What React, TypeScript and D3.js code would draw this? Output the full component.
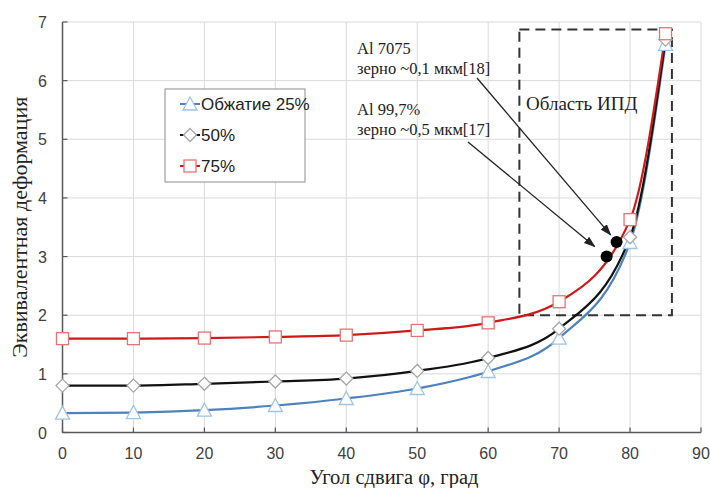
import React from "react";
import * as d3 from "d3";

const angles = [0, 10, 20, 30, 40, 50, 60, 70, 80, 85];
const s25 = [0.33, 0.34, 0.38, 0.46, 0.58, 0.75, 1.04, 1.61, 3.24, 6.62];
const s50 = [0.8, 0.8, 0.83, 0.87, 0.92, 1.05, 1.27, 1.77, 3.33, 6.7];
const s75 = [1.6, 1.6, 1.61, 1.63, 1.66, 1.74, 1.87, 2.23, 3.63, 6.8];
const xTicks = [0, 10, 20, 30, 40, 50, 60, 70, 80, 90];
const yTicks = [0, 1, 2, 3, 4, 5, 6, 7];
const legendLabels = ["Обжатие 25%", "50%", "75%"];
const refPoints = [
  { x: 76.7, y: 3.0 },
  { x: 78.1, y: 3.25 },
];
const ipdBox = { x0: 64.4, x1: 85.9, y0: 2.0, y1: 6.87 };

const W = 710;
const H = 488;
const x = d3.scaleLinear().domain([0, 90]).range([62.5, 701]);
const y = d3.scaleLinear().domain([0, 7]).range([432.5, 22]);

const series = [
  { name: legendLabels[0], data: s25, line: "#4f81bd", marker: "triangle", mstroke: "#9dc3e6" },
  { name: legendLabels[1], data: s50, line: "#111111", marker: "diamond", mstroke: "#a6a6a6" },
  { name: legendLabels[2], data: s75, line: "#d01818", marker: "square", mstroke: "#e57373" },
];

function Marker({ type, cx, cy, stroke }: { type: string; cx: number; cy: number; stroke: string }) {
  if (type === "square")
    return <rect x={cx - 6} y={cy - 6} width={12} height={12} fill="#fff" stroke={stroke} strokeWidth={1.3} />;
  if (type === "diamond")
    return (
      <path d={`M${cx},${cy - 6.5}L${cx + 6.5},${cy}L${cx},${cy + 6.5}L${cx - 6.5},${cy}Z`} fill="#fff" stroke={stroke} strokeWidth={1.3} />
    );
  return (
    <path d={`M${cx},${cy - 7}L${cx + 7},${cy + 6}L${cx - 7},${cy + 6}Z`} fill="#fff" stroke={stroke} strokeWidth={1.3} />
  );
}

export default function App() {
  const line = d3
    .line<number>()
    .x((_, i) => x(angles[i]))
    .y((d) => y(d))
    .curve(d3.curveMonotoneX);

  const serif = "'Liberation Serif', 'Times New Roman', serif";
  const sans = "'Liberation Sans', Arial, sans-serif";

  return (
    <svg width={W} height={H} style={{ position: "absolute", left: 0, top: 0, background: "#fff" }}>
      <defs>
        <marker id="arr" viewBox="0 0 10 10" refX={9} refY={5} markerWidth={9} markerHeight={9} orient="auto">
          <path d="M0,1.5L10,5L0,8.5Z" fill="#222" />
        </marker>
      </defs>
      {/* grid */}
      {xTicks.map((t) => (
        <line key={"gx" + t} x1={x(t)} x2={x(t)} y1={y(0)} y2={y(7)} stroke="#d9d9d9" strokeWidth={1} />
      ))}
      {yTicks.map((t) => (
        <line key={"gy" + t} x1={x(0)} x2={x(90)} y1={y(t)} y2={y(t)} stroke="#d9d9d9" strokeWidth={1} />
      ))}
      {/* axes */}
      <line x1={x(0)} x2={x(0)} y1={y(0)} y2={y(7)} stroke="#595959" strokeWidth={1.5} />
      <line x1={x(0)} x2={x(90)} y1={y(0)} y2={y(0)} stroke="#595959" strokeWidth={1.5} />
      {xTicks.map((t) => (
        <line key={"tx" + t} x1={x(t)} x2={x(t)} y1={y(0)} y2={y(0) - 5} stroke="#595959" strokeWidth={1.2} />
      ))}
      {yTicks.map((t) => (
        <line key={"ty" + t} x1={x(0)} x2={x(0) + 5} y1={y(t)} y2={y(t)} stroke="#595959" strokeWidth={1.2} />
      ))}
      {xTicks.map((t) => (
        <text key={"lx" + t} x={x(t)} y={459} textAnchor="middle" fontFamily={sans} fontSize={16} fill="#404040">
          {t}
        </text>
      ))}
      {yTicks.map((t) => (
        <text key={"ly" + t} x={47} y={y(t) + 6} textAnchor="end" fontFamily={sans} fontSize={16} fill="#404040">
          {t}
        </text>
      ))}
      {/* axis titles */}
      <text x={394} y={484} textAnchor="middle" fontFamily={serif} fontSize={20.5} fill="#222">
        Угол сдвига φ, град
      </text>
      <text
        transform={`translate(27,${y(3.5)}) rotate(-90)`}
        textAnchor="middle"
        fontFamily={serif}
        fontSize={22}
        fill="#222"
      >
        Эквивалентная деформация
      </text>
      {/* IPD box */}
      <rect
        x={x(ipdBox.x0)}
        y={y(ipdBox.y1)}
        width={x(ipdBox.x1) - x(ipdBox.x0)}
        height={y(ipdBox.y0) - y(ipdBox.y1)}
        fill="none"
        stroke="#333"
        strokeWidth={2}
        strokeDasharray="10,6"
      />
      <text x={526} y={110} fontFamily={serif} fontSize={19} fill="#222">
        Область ИПД
      </text>
      {/* series */}
      {series.map((s) => (
        <path key={"l" + s.name} d={line(s.data) || ""} fill="none" stroke={s.line} strokeWidth={2.2} />
      ))}
      {series.map((s) =>
        s.data.map((v, i) => (
          <Marker key={s.name + i} type={s.marker} cx={x(angles[i])} cy={y(v)} stroke={s.mstroke} />
        ))
      )}
      {/* reference points */}
      {refPoints.map((p, i) => (
        <circle key={"rp" + i} cx={x(p.x)} cy={y(p.y)} r={6} fill="#000" />
      ))}
      {/* annotations */}
      <text x={357} y={54} fontFamily={serif} fontSize={16.5} fill="#222">Al 7075</text>
      <text x={357} y={74} fontFamily={serif} fontSize={16.5} fill="#222">зерно ~0,1  мкм[18]</text>
      <text x={357} y={115} fontFamily={serif} fontSize={16.5} fill="#222">Al 99,7%</text>
      <text x={357} y={135} fontFamily={serif} fontSize={16.5} fill="#222">зерно ~0,5 мкм[17]</text>
      <line x1={477} y1={78} x2={x(78.1) - 6} y2={y(3.25) - 7} stroke="#222" strokeWidth={1.3} markerEnd="url(#arr)" />
      <line x1={468} y1={142} x2={x(76.7) - 12} y2={y(3.0) - 10} stroke="#222" strokeWidth={1.3} markerEnd="url(#arr)" />
      {/* legend */}
      <rect x={165} y={89} width={140} height={93} fill="#fff" stroke="#8c8c8c" strokeWidth={1} />
      {series.map((s, i) => {
        const ly = 104 + i * 31;
        return (
          <g key={"lg" + i}>
            <line x1={180} x2={200} y1={ly} y2={ly} stroke={s.line} strokeWidth={2} />
            <Marker type={s.marker} cx={190} cy={ly} stroke={s.mstroke} />
            <text x={201} y={ly + 6} fontFamily={sans} fontSize={17} fill="#222">
              {s.name}
            </text>
          </g>
        );
      })}
    </svg>
  );
}
